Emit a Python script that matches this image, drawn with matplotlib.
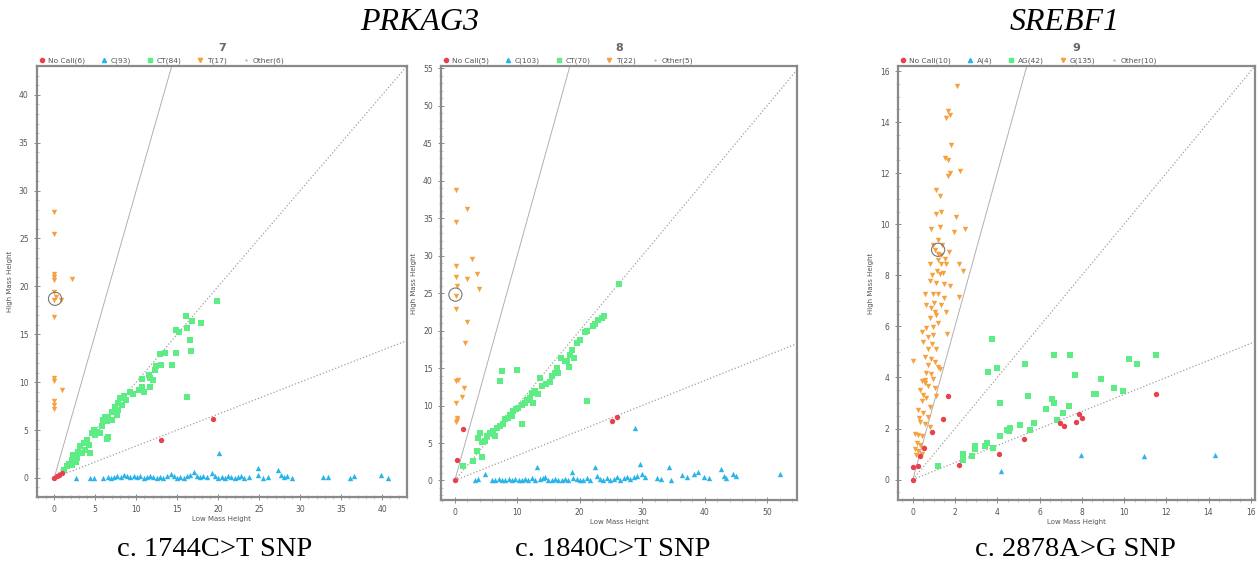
import matplotlib.pyplot as plt
from matplotlib.lines import Line2D
from matplotlib.ticker import MultipleLocator

plt.rcParams['font.family'] = ['DejaVu Sans']

# ---- panel 7 : PRKAG3 c.1744C>T ----
p1_nocall = [(0, 0), (0.3, 0.15), (0.6, 0.35), (0.9, 0.55), (13.0, 4.0), (19.4, 6.2)]
p1_hom1 = [(2.6, 0), (4.4, 0), (4.8, 0), (6.0, 0), (6.5, 0.1), (6.9, 0), (7.3, 0.1), (7.7, 0.2),
           (8.1, 0.1), (8.5, 0.3), (8.9, 0.2), (9.3, 0.1), (9.7, 0.2), (10.1, 0.1), (10.5, 0.2),
           (10.9, 0), (11.3, 0.1), (11.7, 0.2), (12.1, 0.1), (12.5, 0), (12.9, 0.1), (13.3, 0),
           (13.7, 0.2), (14.2, 0.4), (14.6, 0.2), (15.0, 0), (15.4, 0.1), (15.8, 0), (16.2, 0.2),
           (16.6, 0.3), (17.0, 0.6), (17.4, 0.2), (17.8, 0.1), (18.2, 0.2), (18.6, 0.1), (19.2, 0.5),
           (19.6, 0.2), (20.0, 0), (20.4, 0.1), (20.8, 0), (21.2, 0.2), (21.6, 0.1), (22.0, 0),
           (22.4, 0.1), (22.8, 0.2), (23.2, 0), (23.7, 0.1), (24.8, 1.0), (24.9, 0.3), (25.4, 0),
           (26.1, 0.1), (27.3, 0.8), (27.7, 0.3), (28.0, 0.1), (28.4, 0.2), (29.0, 0), (32.8, 0.1),
           (33.4, 0.1), (36.1, 0), (36.5, 0.2), (39.9, 0.3), (40.7, 0), (20.1, 2.6)]
p1_het = [(19.8, 18.5), (16.1, 16.9), (16.8, 16.4), (17.9, 16.2), (16.2, 15.6), (14.8, 15.4),
          (15.2, 15.2), (16.5, 14.4), (16.7, 13.3), (12.9, 12.9), (13.5, 13.05), (14.8, 13.0),
          (14.4, 11.8), (12.4, 11.7), (13.0, 11.8), (12.3, 11.25), (11.5, 10.7), (11.7, 10.4),
          (12.1, 10.2), (10.7, 10.3), (10.3, 9.2), (10.9, 9.0), (11.7, 9.5), (10.7, 9.5), (16.2, 8.5),
          (8.45, 8.6), (8.05, 8.3), (8.7, 8.1), (7.8, 7.8), (8.3, 7.6), (7.4, 7.4), (7.8, 7.1),
          (7.0, 6.9), (7.6, 6.6), (6.6, 6.4), (6.2, 6.4), (7.0, 6.0), (6.0, 6.0), (6.4, 5.9),
          (6.6, 4.3), (6.4, 4.1), (4.8, 5.0), (5.2, 4.8), (5.4, 4.65), (4.6, 4.65), (5.0, 4.5),
          (5.6, 4.65), (4.0, 3.96), (3.6, 3.6), (4.2, 3.4), (3.2, 3.3), (3.8, 2.9), (2.96, 2.7),
          (3.4, 2.6), (4.4, 2.6), (2.35, 2.4), (2.8, 2.05), (2.15, 1.9), (2.6, 1.7), (1.75, 1.5),
          (2.15, 1.35), (1.55, 1.2), (1.15, 0.8), (9.2, 9.0), (9.6, 8.8), (5.8, 5.4)]
p1_hom2 = [(0, 27.8), (0, 25.5), (0, 21.3), (0, 21.0), (0, 20.7), (2.2, 20.8), (0, 19.4),
           (0, 18.6), (0.8, 18.6), (0, 16.8), (0, 10.4), (0, 10.1), (0.9, 9.2), (0, 8.0),
           (0, 7.6), (0, 7.2), (0.2, 18.9)]
p1_sel = (0.1, 18.7)
p1_labels = ['No Call(6)', 'C(93)', 'CT(84)', 'T(17)', 'Other(6)']

# ---- panel 8 : PRKAG3 c.1840C>T ----
p2_nocall = [(0, 0.1), (0.4, 2.7), (1.3, 6.9), (25.1, 7.9), (25.9, 8.5)]
p2_hom1 = [(3.2, 0), (3.75, 0.2), (4.8, 0.9), (5.9, 0.1), (6.4, 0), (7.0, 0.2), (7.5, 0.1),
           (8.0, 0), (8.6, 0.2), (9.1, 0.1), (9.6, 0.2), (10.2, 0), (10.7, 0.1), (11.3, 0.2),
           (11.8, 0.1), (12.3, 0.3), (12.9, 0.1), (13.1, 1.8), (13.7, 0.2), (14.2, 0.3), (14.5, 0.5),
           (15.0, 0.1), (15.5, 0), (16.1, 0.2), (16.6, 0.1), (17.1, 0), (17.7, 0.2), (18.2, 0.1),
           (18.7, 1.1), (19.0, 0.3), (19.6, 0.2), (20.1, 0), (20.6, 0.1), (21.2, 0.3), (21.7, 0.1),
           (22.4, 1.8), (22.8, 0.6), (23.3, 0.2), (23.8, 0.1), (24.4, 0.3), (24.9, 0.1), (25.5, 0.2),
           (26.0, 0.4), (26.5, 0.1), (27.1, 0.3), (27.6, 0.5), (28.1, 0.2), (28.7, 0.4), (29.2, 0.6),
           (29.6, 2.2), (30.0, 0.9), (30.5, 0.5), (28.8, 7.0), (32.4, 0.3), (33.0, 0.2), (34.3, 1.85),
           (34.6, 0.1), (36.4, 0.7), (37.2, 0.4), (38.3, 0.9), (38.9, 1.1), (39.9, 0.5), (40.7, 0.3),
           (42.6, 1.5), (43.1, 0.6), (43.4, 0.3), (44.5, 0.9), (45.0, 0.6), (52.0, 0.9)]
p2_het = [(26.3, 26.15), (23.9, 22.0), (23.5, 21.7), (23.0, 21.4), (22.4, 20.9), (22.1, 20.6),
          (20.8, 19.8), (21.2, 20.0), (19.5, 18.3), (18.7, 17.4), (18.4, 16.8), (19.1, 16.3),
          (17.9, 15.9), (18.3, 15.2), (17.6, 15.9), (16.3, 15.0), (16.6, 14.3), (16.0, 14.3),
          (15.2, 13.2), (13.6, 13.7), (13.9, 12.6), (12.8, 11.9), (12.3, 11.7), (13.3, 11.5),
          (12.0, 11.0), (11.5, 10.8), (12.5, 10.4), (11.2, 10.4), (7.5, 14.6), (9.9, 14.7),
          (7.2, 13.3), (21.1, 10.6), (10.7, 10.1), (10.1, 9.7), (9.3, 9.3), (8.8, 8.8), (8.5, 8.4),
          (8.0, 8.2), (9.1, 8.6), (7.7, 7.5), (7.2, 7.3), (6.7, 7.05), (6.1, 6.6), (5.6, 6.4),
          (5.1, 5.95), (4.5, 5.1), (4.8, 5.3), (10.7, 7.5), (4.0, 6.4), (3.7, 5.7), (4.3, 5.1),
          (3.5, 4.0), (4.3, 3.1), (2.9, 2.6), (1.3, 2.0), (14.6, 12.9), (15.6, 14.0), (17.0, 16.4),
          (20.0, 18.8), (9.8, 9.5), (6.4, 6.0)]
p2_hom2 = [(0.2, 38.8), (2.0, 36.2), (0.2, 34.5), (2.7, 29.5), (0.2, 28.6), (0.2, 27.2),
           (1.9, 26.9), (3.6, 27.5), (0.4, 25.9), (3.8, 25.6), (0.2, 24.6), (0.2, 22.9),
           (1.9, 21.2), (1.7, 18.4), (0.2, 13.3), (0.5, 13.4), (1.4, 12.4), (1.1, 11.1),
           (0.2, 10.4), (0.4, 8.1), (0.2, 7.8), (0.3, 8.3)]
p2_sel = (0.1, 24.8)
p2_labels = ['No Call(5)', 'C(103)', 'CT(70)', 'T(22)', 'Other(5)']

# ---- panel 9 : SREBF1 c.2878A>G ----
p3_nocall = [(0.03, 0), (0.03, 0.49), (0.26, 0.52), (0.34, 0.93), (0.54, 1.24), (0.93, 1.86),
             (1.43, 2.39), (1.66, 3.26), (2.2, 0.59), (4.1, 1.02), (5.25, 1.57), (6.97, 2.2),
             (7.16, 2.09), (7.71, 2.25), (7.87, 2.55), (8.03, 2.42), (11.5, 3.36)]
p3_hom1 = [(4.18, 0.33), (7.95, 0.98), (10.97, 0.92), (14.3, 0.98)]
p3_het = [(3.75, 5.52), (3.54, 4.21), (3.99, 4.38), (5.29, 4.51), (6.68, 4.86), (7.44, 4.86),
          (7.68, 4.09), (10.25, 4.71), (10.62, 4.51), (11.52, 4.86), (8.9, 3.92), (9.54, 3.6),
          (9.94, 3.46), (8.56, 3.37), (8.67, 3.37), (5.44, 3.29), (4.11, 3.0), (6.6, 3.16),
          (6.68, 3.0), (7.4, 2.9), (6.29, 2.75), (7.13, 2.59), (6.84, 2.33), (5.76, 2.2),
          (5.57, 1.96), (5.1, 2.12), (4.62, 2.03), (4.46, 1.96), (4.54, 1.89), (4.14, 1.7),
          (3.51, 1.44), (3.43, 1.31), (3.8, 1.24), (2.95, 1.31), (2.95, 1.18), (2.4, 1.02),
          (2.8, 0.94), (2.4, 0.76), (1.2, 0.55)]
p3_hom2 = [(2.09, 15.43), (1.66, 14.45), (1.74, 14.3), (1.58, 14.15), (1.81, 13.1), (1.55, 12.6),
           (1.66, 12.5), (1.74, 12.0), (1.66, 11.9), (2.23, 12.1), (1.12, 11.35), (1.3, 11.1),
           (1.09, 10.4), (1.35, 10.5), (2.05, 10.3), (0.88, 9.8), (1.19, 9.4), (1.97, 9.7),
           (2.48, 9.8), (0.96, 9.2), (1.04, 9.0), (1.19, 8.84), (1.35, 8.78), (1.55, 8.64),
           (0.81, 8.44), (1.35, 8.44), (1.58, 8.44), (2.2, 8.44), (2.4, 8.18), (1.15, 8.18),
           (1.27, 8.05), (1.43, 8.1), (0.81, 7.78), (1.12, 7.71), (1.5, 7.65), (1.77, 7.58),
           (0.57, 7.25), (0.96, 7.25), (1.19, 7.25), (2.2, 7.14), (1.5, 7.12), (1.32, 6.85),
           (1.58, 6.58), (0.65, 6.85), (0.88, 6.72), (1.04, 6.58), (1.12, 6.45), (0.81, 6.32),
           (0.65, 5.92), (0.96, 5.98), (1.19, 6.12), (0.42, 5.78), (0.5, 5.39), (0.73, 5.59),
           (0.96, 5.65), (1.61, 5.72), (0.73, 5.12), (1.12, 5.12), (0.57, 4.79), (0.88, 4.72),
           (1.04, 4.59), (1.19, 4.39), (1.27, 4.32), (0.65, 4.19), (0.88, 4.12), (0.96, 3.92),
           (0.42, 3.86), (0.57, 3.79), (0.73, 3.66), (1.04, 3.59), (0.03, 4.65), (0.34, 3.52),
           (0.5, 3.32), (0.65, 3.19), (1.12, 3.26), (0.81, 2.86), (0.42, 3.06), (0.26, 2.73),
           (0.5, 2.59), (0.73, 2.46), (0.34, 2.26), (0.57, 2.19), (0.81, 2.06), (0.11, 1.8),
           (0.26, 1.75), (0.42, 1.7), (0.19, 1.45), (0.34, 1.35), (0.5, 1.25), (0.11, 1.2),
           (0.26, 1.1), (0.42, 1.0), (0.15, 0.95), (0.9, 5.3), (1.0, 6.9), (0.7, 4.5), (0.6, 3.9),
           (0.3, 2.4), (1.4, 9.2), (1.2, 8.6), (0.9, 8.0), (1.7, 8.9), (1.3, 9.9)]
p3_sel = (1.2, 9.0)
p3_labels = ['No Call(10)', 'A(4)', 'AG(42)', 'G(135)', 'Other(10)']

red = '#e8414e'
blue = '#2ab4ea'
green = '#5eec84'
orange = '#f6a03e'


def draw_panel(ax, nocall, hom1, het, hom2, sel, labels, num, xlim, ylim, xmaj, xmin, ymaj, ymin):
    xs = [0, xlim[1] * 1.2]
    ax.plot(xs, [3 * v for v in xs], color='#b0b0b0', lw=0.7, zorder=1)
    ax.plot(xs, xs, color='#a0a0a0', lw=0.9, ls=':', zorder=1)
    ax.plot(xs, [v / 3 for v in xs], color='#a0a0a0', lw=0.9, ls=':', zorder=1)
    for pts, c, m in [(hom1, blue, '^'), (het, green, 's'), (hom2, orange, 'v'), (nocall, red, 'o')]:
        ax.scatter([p[0] for p in pts], [p[1] for p in pts], s=15, c=c, marker=m,
                   linewidths=0, zorder=3)
    ax.scatter([sel[0]], [sel[1]], s=90, facecolors='none', edgecolors='#777777',
               linewidths=0.8, zorder=4)
    ax.set_xlim(*xlim)
    ax.set_ylim(*ylim)
    ax.xaxis.set_major_locator(MultipleLocator(xmaj))
    ax.xaxis.set_minor_locator(MultipleLocator(xmin))
    ax.yaxis.set_major_locator(MultipleLocator(ymaj))
    ax.yaxis.set_minor_locator(MultipleLocator(ymin))
    ax.tick_params(which='major', direction='inout', length=5, width=0.6, colors='#777777',
                   labelsize=5.5, labelcolor='#555555')
    ax.tick_params(which='minor', direction='inout', length=2.5, width=0.4, colors='#999999')
    for sp in ax.spines.values():
        sp.set_color('#8a8a8a')
        sp.set_linewidth(1.6)
    ax.set_xlabel('Low Mass Height', fontsize=5, color='#555555', labelpad=1)
    ax.set_ylabel('High Mass Height', fontsize=5, color='#555555', labelpad=4)
    ax.set_title(num, fontsize=8, fontweight='bold', color='#666666', pad=11)
    handles = [Line2D([], [], ls='', marker='o', color=red, ms=3),
               Line2D([], [], ls='', marker='^', color=blue, ms=3),
               Line2D([], [], ls='', marker='s', color=green, ms=3),
               Line2D([], [], ls='', marker='v', color=orange, ms=3),
               Line2D([], [], ls='', marker='.', color='#bbbbbb', ms=1.5)]
    leg = ax.legend(handles, labels, loc='lower left', bbox_to_anchor=(-0.01, 0.995), ncol=5,
                    fontsize=5.4, frameon=False, handletextpad=0.3, columnspacing=1.9,
                    borderaxespad=0.1, handlelength=1.2)
    for t in leg.get_texts():
        t.set_color('#555555')


fig = plt.figure(figsize=(12.58, 5.72), dpi=100)
ax1 = fig.add_axes([0.0294, 0.131, 0.294, 0.7535])
ax2 = fig.add_axes([0.3506, 0.1259, 0.283, 0.7587])
ax3 = fig.add_axes([0.7138, 0.1259, 0.2838, 0.7587])

draw_panel(ax1, p1_nocall, p1_hom1, p1_het, p1_hom2, p1_sel, p1_labels, '7',
           (-2.1, 43), (-2, 43), 5, 1, 5, 1)
draw_panel(ax2, p2_nocall, p2_hom1, p2_het, p2_hom2, p2_sel, p2_labels, '8',
           (-2.2, 54.8), (-2.6, 55.3), 10, 2, 5, 1)
draw_panel(ax3, p3_nocall, p3_hom1, p3_het, p3_hom2, p3_sel, p3_labels, '9',
           (-0.7, 16.2), (-0.8, 16.2), 2, 0.5, 2, 0.5)

serif = ['Liberation Serif', 'DejaVu Serif']
fig.text(420 / 1258, 1 - 22 / 572, 'PRKAG3', family=serif, style='italic', fontsize=23,
         ha='center', va='center')
fig.text(1065 / 1258, 1 - 22 / 572, 'SREBF1', family=serif, style='italic', fontsize=23,
         ha='center', va='center')
captions = ['c. 1744C>T SNP', 'c. 1840C>T SNP', 'c. 2878A>G SNP']
cap_x = [215, 613, 1075]
for cx, cap in zip(cap_x, captions):
    fig.text(cx / 1258, 1 - 550 / 572, cap, family=serif, fontsize=20.5, ha='center', va='center')

fig.savefig('out.png', dpi=100)
